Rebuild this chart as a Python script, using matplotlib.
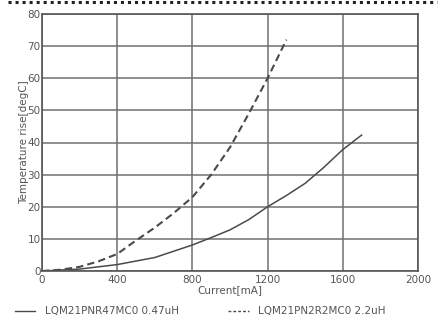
import matplotlib
matplotlib.use("Agg")
import matplotlib.pyplot as plt
from matplotlib.lines import Line2D

# Data
x_solid = [0, 200, 400, 600, 800, 900, 1000, 1100, 1200, 1300, 1400, 1500, 1600, 1700]
y_solid = [0, 0.6, 2, 4.2, 8.1, 10.4, 12.8, 16, 20, 23.5, 27.3, 32.3, 37.8, 42.3]
x_dash = [0, 100, 200, 300, 400, 500, 600, 700, 800, 900, 1000, 1100, 1200, 1300]
y_dash = [0, 0.4, 1.3, 3, 5.3, 9.5, 13.5, 18, 23, 30, 38.5, 49, 60, 72]
label_solid = "LQM21PNR47MC0 0.47uH"
label_dash = "LQM21PN2R2MC0 2.2uH"
xticks = [0, 400, 800, 1200, 1600, 2000]
yticks = [0, 10, 20, 30, 40, 50, 60, 70, 80]

W, H = 440, 322
fig = plt.figure(figsize=(W/100, H/100), dpi=100)
fig.patch.set_facecolor("white")
ax = fig.add_axes([42/W, 1-271/H, (418-42)/W, (271-14)/H])

line_col = "#4a4a4a"
grid_col = "#707070"
text_col = "#555555"

ax.plot(x_solid, y_solid, color=line_col, lw=1.1)
ax.plot(x_dash, y_dash, color=line_col, lw=1.5, ls=(0, (3.5, 2)))

ax.set_xlim(0, 2000)
ax.set_ylim(0, 80)
ax.set_xticks(xticks)
ax.set_yticks(yticks)
ax.grid(True, color=grid_col, lw=1.1)
ax.set_axisbelow(True)
for s in ax.spines.values():
    s.set_color("#555555")
    s.set_linewidth(1.2)
ax.tick_params(length=0, pad=1, labelsize=7.5, colors=text_col)
ax.tick_params(axis="x", pad=3)
ax.set_xlabel("Current[mA]", fontsize=7.5, color=text_col, labelpad=0)
ax.set_ylabel("Temperature rise[degC]", fontsize=7.5, color=text_col, labelpad=-1)

# legend below
ly = 1 - 311/H
fig.add_artist(Line2D([15/W, 35/W], [ly, ly], color=line_col, lw=1.0))
fig.text(45/W, ly, label_solid, fontsize=7.5, color=text_col, va="center", ha="left")
fig.add_artist(Line2D([228/W, 249/W], [ly, ly], color=line_col, lw=1.0, ls=(0, (2, 1.5))))
fig.text(258/W, ly, label_dash, fontsize=7.5, color=text_col, va="center", ha="left")

# dotted line at top
dy = 1 - 2/H
fig.add_artist(Line2D([8/W, 437/W], [dy, dy], color="#222222", lw=2.2, ls=(0, (1, 1.3))))

fig.savefig("out.png", dpi=100, facecolor="white")
